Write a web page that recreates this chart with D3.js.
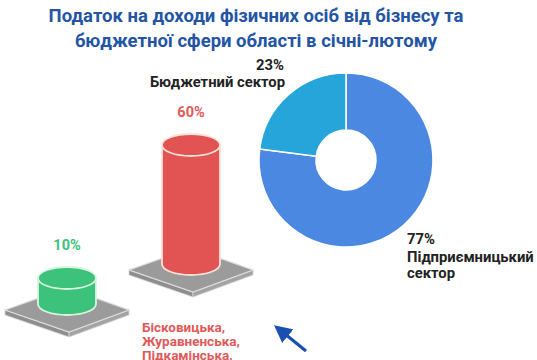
<!DOCTYPE html>
<html><head><meta charset="utf-8">
<script src="https://cdn.jsdelivr.net/npm/d3@7"></script>
<style>body{margin:0;background:#fff}svg{display:block}</style>
</head><body>
<script>
// ---- data ----
const titleLines = ["Податок на доходи фізичних осіб від бізнесу та", "бюджетної сфери області в січні-лютому"];
const sectorNames = ["Підприємницький сектор", "Бюджетний сектор"];
const sectorValues = [77, 23];
const sectorLabels = ["77%", "23%"];
const barValues = [10, 60];
const barLabels = ["10%", "60%"];
const barCaptions = [["Золочівська,"], ["Бісковицька,", "Журавненська,", "Підкамінська,"]];

const W = 537, H = 360;
const svg = d3.select("body").append("svg").attr("width", W).attr("height", H);
const font = "Roboto, 'Noto Sans', sans-serif";

// title
svg.append("g").selectAll("text").data(titleLines).join("text")
  .attr("x", 256).attr("y", (d, i) => 22 + i * 25)
  .attr("text-anchor", "middle").attr("font-family", font).attr("font-weight", 700)
  .attr("font-size", 18.5).attr("fill", "#2454a4").text(d => d);

// ---- donut ----
const cx = 346, cy = 160, R = 87, r0 = 30;
const pie = d3.pie().sort(null).value(d => d)(sectorValues);
const arc = d3.arc().innerRadius(r0).outerRadius(R);
const donutColors = ["#4a88e2", "#26a5da"];
const dg = svg.append("g").attr("transform", `translate(${cx},${cy})`);
dg.selectAll("path").data(pie).join("path")
  .attr("d", arc).attr("fill", (d, i) => donutColors[i])
  .attr("stroke", "#fff").attr("stroke-width", 1.5);

// donut labels
const lab = svg.append("g").attr("font-family", font).attr("font-weight", 700).attr("font-size", 14.8).attr("fill", "#222");
lab.append("text").attr("x", 284).attr("y", 70).attr("text-anchor", "end").text(sectorLabels[1]);
lab.append("text").attr("x", 285).attr("y", 87).attr("text-anchor", "end").text(sectorNames[1]);
lab.append("text").attr("x", 407).attr("y", 244).text(sectorLabels[0]);
lab.append("text").attr("x", 407).attr("y", 262).text("Підприємницький");
lab.append("text").attr("x", 407).attr("y", 278).text("сектор");

// ---- cylinders ----
const xPos = d3.scalePoint().domain([0, 1]).range([67, 191]);
const baseY = d3.scalePoint().domain([0, 1]).range([304, 264]);
const hScale = d3.scaleLinear().domain([0, 60]).range([7.4, 119]);
const fills = ["#3cc27b", "#e25454"];
const outlines = ["#d9f6e2", "#fbe4d6"];
const labelColors = ["#3cc27b", "#e05a5a"];
const rx = 29, ry = 11, pw = 62, ph = 22, pt = 5;

barValues.forEach((v, i) => {
  const x = xPos(i), b = baseY(i), top = b - hScale(v);
  const g = svg.append("g");
  // platform
  const py = b + 6;
  const L = [x - pw, py], T = [x, py - ph], Rr = [x + pw, py], B = [x + 2, py + ph];
  g.append("polygon").attr("points", [L, B, [B[0], B[1] + pt], [L[0], L[1] + pt]].join(" ")).attr("fill", "#8e8e8e").attr("stroke", "#d6d6d6").attr("stroke-width", 0.8);
  g.append("polygon").attr("points", [B, Rr, [Rr[0], Rr[1] + pt], [B[0], B[1] + pt]].join(" ")).attr("fill", "#a3a3a3").attr("stroke", "#d6d6d6").attr("stroke-width", 0.8);
  g.append("polygon").attr("points", [L, T, Rr, B].join(" ")).attr("fill", "#9b9b9b").attr("stroke", "#dcdcdc").attr("stroke-width", 1.2);
  // body
  const body = `M${x - rx},${top} L${x - rx},${b} A${rx},${ry} 0 0 0 ${x + rx},${b} L${x + rx},${top} Z`;
  g.append("path").attr("d", body).attr("fill", fills[i]).attr("stroke", outlines[i]).attr("stroke-width", 1.8);
  g.append("ellipse").attr("cx", x).attr("cy", top).attr("rx", rx).attr("ry", ry)
    .attr("fill", fills[i]).attr("stroke", outlines[i]).attr("stroke-width", 1.8);
  // value label
  g.append("text").attr("x", x).attr("y", top - ry - 17).attr("text-anchor", "middle")
    .attr("font-family", font).attr("font-weight", 700).attr("font-size", 14.5)
    .attr("fill", labelColors[i]).text(barLabels[i]);
});

// captions
const capX = [15, 142], capY = [369, 332];
barCaptions.forEach((lines, i) => {
  svg.append("g").selectAll("text").data(lines).join("text")
    .attr("x", capX[i]).attr("y", (d, j) => capY[i] + j * 14)
    .attr("font-family", font).attr("font-weight", 700).attr("font-size", 13.5)
    .attr("fill", labelColors[i]).text(d => d);
});

// arrow
const defs = svg.append("defs");
defs.append("marker").attr("id", "ah").attr("viewBox", "0 0 10 10").attr("refX", 2).attr("refY", 5)
  .attr("markerWidth", 5.5).attr("markerHeight", 5.5).attr("orient", "auto")
  .append("path").attr("d", "M0,0 L10,5 L0,10 Z").attr("fill", "#1c4fb3");
svg.append("line").attr("x1", 306).attr("y1", 351).attr("x2", 285).attr("y2", 334)
  .attr("stroke", "#1c4fb3").attr("stroke-width", 3.2).attr("marker-end", "url(#ah)");
</script>
</body></html>
